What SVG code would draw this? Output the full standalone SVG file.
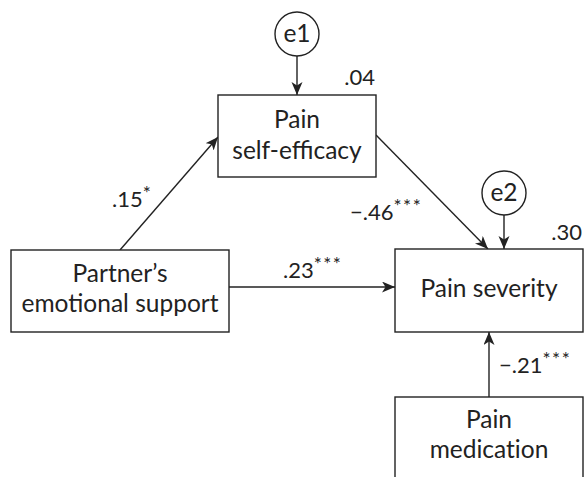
<svg xmlns="http://www.w3.org/2000/svg" width="586" height="477" viewBox="0 0 586 477">
<defs>
<style>
.box{fill:#fff;stroke:#222;stroke-width:1.4}
.lbl{font-family:Lato,"Open Sans",sans-serif;font-size:24.5px;fill:#222;text-anchor:middle}
.num{font-family:Lato,"Open Sans",sans-serif;font-size:22px;fill:#222}
.sup{font-size:19px;letter-spacing:1.5px}
.nolig{font-variant-ligatures:none}
.edge{stroke:#222;stroke-width:1.4;fill:none;marker-end:url(#ah)}
</style>
<marker id="ah" markerUnits="userSpaceOnUse" markerWidth="14" markerHeight="12" refX="13" refY="5.5" orient="auto">
<path d="M0,0 L13,5.5 L0,11 L3.5,5.5 z" fill="#222"/>
</marker>
</defs>
<rect width="586" height="477" fill="#fff"/>
<g id="connectors">
<line class="edge" x1="297" y1="56" x2="297" y2="95"/>
<line class="edge" x1="504" y1="215" x2="504" y2="249"/>
<line class="edge" x1="120" y1="250" x2="218" y2="137"/>
<line class="edge" x1="376" y1="135" x2="488" y2="249"/>
<line class="edge" x1="229" y1="287" x2="395" y2="287"/>
<line class="edge" x1="489" y1="397" x2="489" y2="332"/>
</g>
<g id="e1">
<circle cx="297" cy="34" r="22" class="box"/>
<text class="lbl" x="297" y="42">e1</text>
</g>
<g id="e2">
<circle cx="504" cy="193" r="22" class="box"/>
<text class="lbl" x="504" y="201">e2</text>
</g>
<g id="self-efficacy">
<rect class="box" x="218" y="95" width="158" height="82"/>
<text class="lbl" x="297" y="128">Pain</text>
<text class="lbl" x="297" y="159">self-efficacy</text>
</g>
<g id="partner">
<rect class="box" x="11" y="250" width="218" height="82"/>
<text class="lbl" x="120" y="282">Partner’s</text>
<text class="lbl" x="120" y="312">emotional support</text>
</g>
<g id="severity">
<rect class="box" x="395" y="249" width="188" height="83"/>
<text class="lbl" x="489" y="297">Pain severity</text>
</g>
<g id="medication">
<rect class="box" x="395" y="397" width="188" height="90"/>
<text class="lbl" x="489" y="428">Pain</text>
<text class="lbl nolig" x="489" y="458">medication</text>
</g>
<g id="labels">
<text class="num" x="375" y="85" text-anchor="end">.04</text>
<text class="num" x="582" y="240" text-anchor="end">.30</text>
<text class="num" x="112" y="207">.15<tspan class="sup" dy="-7">*</tspan></text>
<text class="num" x="350" y="220">−.46<tspan class="sup" dy="-7">***</tspan></text>
<text class="num" x="283" y="278">.23<tspan class="sup" dy="-7">***</tspan></text>
<text class="num" x="499" y="373">−.21<tspan class="sup" dy="-7">***</tspan></text>
</g>
</svg>
